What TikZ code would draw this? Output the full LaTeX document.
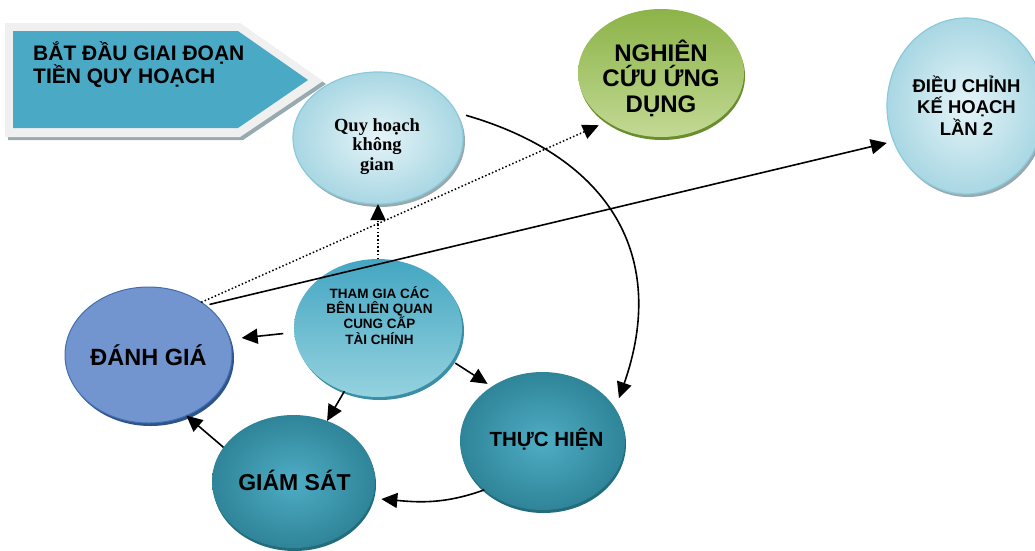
\documentclass[tikz,border=0pt]{standalone}
\usepackage{fontspec}
\setmainfont{Liberation Sans}
\newfontfamily\romanfam{Liberation Serif}
\usetikzlibrary{shapes.geometric,arrows.meta,shadows}

% palette
\definecolor{bannerteal}{HTML}{4AA9C5}
\definecolor{bannerframe}{HTML}{F0F0F0}
\definecolor{hatchgray}{HTML}{97AAB0}
\definecolor{paleIn}{HTML}{E6F4F8}
\definecolor{paleOut}{HTML}{A8D7E3}
\definecolor{paleEdge}{HTML}{8CCADA}
\definecolor{greenTop}{HTML}{8CB348}
\definecolor{greenMid}{HTML}{9CBF5C}
\definecolor{greenBot}{HTML}{C2D994}
\definecolor{greenRim}{HTML}{6A8D2E}
\definecolor{cyanTop}{HTML}{44A6C2}
\definecolor{cyanMid}{HTML}{55B1C9}
\definecolor{cyanBot}{HTML}{95D2DF}
\definecolor{cyanRim}{HTML}{3A8EA6}
\definecolor{blueLight}{HTML}{7395CF}
\definecolor{blueMid}{HTML}{4876BA}
\definecolor{blueEdge}{HTML}{3F6FB0}
\definecolor{blueRim}{HTML}{2D5389}
\definecolor{tealIn}{HTML}{4EADC5}
\definecolor{tealOut}{HTML}{2F8498}
\definecolor{tealRim}{HTML}{216C7D}

\begin{document}
\begin{tikzpicture}[x=1pt,y=-1pt,
  bubble/.style={ellipse, inner sep=0pt, outer sep=0pt},
  pale/.style={bubble, draw=paleEdge, line width=1.2pt,
    inner color=paleIn, outer color=paleOut,
    drop shadow={shadow xshift=2pt, shadow yshift=-3pt, fill=hatchgray, opacity=1}},
  greenball/.style={bubble, top color=greenTop, middle color=greenMid, bottom color=greenBot,
    drop shadow={shadow xshift=1pt, shadow yshift=-3pt, fill=greenRim, opacity=1}},
  cyanball/.style={bubble, top color=cyanTop, middle color=cyanMid, bottom color=cyanBot,
    drop shadow={shadow xshift=2pt, shadow yshift=-3pt, fill=cyanRim, opacity=1}},
  blueball/.style={bubble, draw=blueEdge, line width=1pt,
    top color=blueLight, middle color=blueMid, bottom color=blueLight,
    drop shadow={shadow xshift=2pt, shadow yshift=-3pt, fill=blueRim, opacity=1}},
  tealball/.style={bubble, inner color=tealIn, outer color=tealOut,
    drop shadow={shadow xshift=1pt, shadow yshift=-3pt, fill=tealRim, opacity=1}},
  caption/.style={inner sep=0pt, align=center, anchor=base},
  link/.style={line width=1.6pt, -{Triangle[length=16pt,width=15pt]}},
  dotlink/.style={line width=1.5pt, dash pattern=on 1.5pt off 2.2pt,
    -{Triangle[length=16pt,width=15pt]}}
]
\useasboundingbox (0,0) rectangle (1035,550);

% start banner
\fill[hatchgray] (8,26) -- (243,26) -- (326,84) -- (243,140) -- (8,140) -- cycle;
\fill[bannerframe] (5,23) -- (240,23) -- (323,81) -- (240,137) -- (5,137) -- cycle;
\fill[bannerteal] (13,31) -- (238,31) -- (308,80) -- (238,128) -- (13,128) -- cycle;
% (multi-line captions are placed by the baseline of their last line)
\node[inner sep=0pt, align=left, anchor=base west,
      font=\fontsize{21}{23}\selectfont\bfseries] (start) at (33,83)
  {BẮT ĐẦU GIAI ĐOẠN\\TIỀN QUY HOẠCH};

% bubbles
\node[pale, minimum width=170pt, minimum height=132pt] (qh) at (378,138) {};
\node[greenball, minimum width=166pt, minimum height=128pt] (nc) at (661,73) {};
\node[pale, minimum width=158pt, minimum height=176pt] (dc) at (966,106) {};
\node[cyanball, minimum width=168pt, minimum height=138pt] (tg) at (378,328) {};
\node[blueball, minimum width=167pt, minimum height=136pt] (dg) at (148.5,355) {};
\node[tealball, minimum width=163pt, minimum height=133pt] (gs) at (293.5,481.5) {};
\node[tealball, minimum width=165pt, minimum height=138pt] (th) at (542.5,441) {};

% captions
\node[caption, font=\romanfam\fontsize{18.5}{19.5}\selectfont\bfseries] (qhT) at (377,170)
  {Quy hoạch\\không\\gian};
\node[caption, font=\fontsize{24}{25.5}\selectfont\bfseries] (ncT) at (661,112)
  {NGHIÊN\\CỨU ỨNG\\DỤNG};
\node[caption, font=\fontsize{18.5}{21.5}\selectfont\bfseries] (dcT) at (966.5,135)
  {ĐIỀU CHỈNH\\KẾ HOẠCH\\LẦN 2};
\node[caption, font=\fontsize{13.5}{15.3}\selectfont\bfseries] (tgT) at (379.5,344)
  {THAM GIA CÁC\\BÊN LIÊN QUAN\\CUNG CẤP\\TÀI CHÍNH};
\node[caption, font=\fontsize{23.5}{26}\selectfont\bfseries] (dgT) at (148.5,365) {ĐÁNH GIÁ};
\node[caption, font=\fontsize{23}{26}\selectfont\bfseries] (gsT) at (294.5,490.7) {GIÁM SÁT};
\node[caption, font=\fontsize{20.5}{24}\selectfont\bfseries] (thT) at (546.5,446) {THỰC HIỆN};

% connectors
\draw[link, shorten <=11pt, shorten >=12pt] (tg.183) -- (dg.11);
\draw[link] (tg.242) -- (gs.61);
\draw[link, shorten <=4pt, shorten >=5pt] (tg.336) -- (th.133);
\draw[link, shorten <=10pt, shorten >=11pt] (qh.18)
  .. controls +(155,45) and +(53,-151) .. (th.24);
\draw[link, shorten >=9pt] (th.220) to[out=200, in=-5] (gs.348);
\draw[link] (gs.154) -- (dg.302);
\draw[dotlink] (tg.north) -- (qh.south);
\draw[dotlink, shorten >=9pt] (dg.45) -- (nc.222);
\draw[link, shorten <=4pt, shorten >=7pt] (dg.41) -- (dc.206);
\end{tikzpicture}
\end{document}
